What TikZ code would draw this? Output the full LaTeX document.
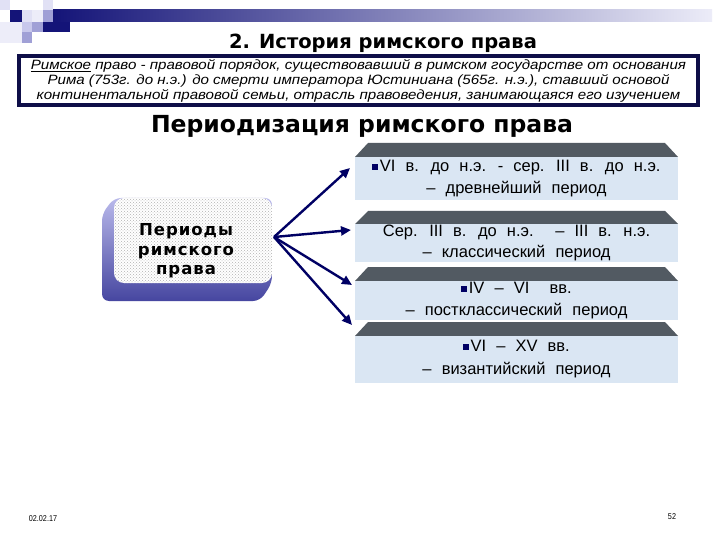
\documentclass[tikz,border=0pt]{standalone}
\usepackage{fontspec}
\setmainfont{Liberation Sans}
\newfontfamily\dvs{DejaVu Sans}
\newfontfamily\deffont[FakeStretch=1.12]{Liberation Sans}
\newfontfamily\boxfont[WordSpace=2.2]{Liberation Sans}
\newfontfamily\footfont[FakeStretch=0.85]{Liberation Sans}
\usetikzlibrary{arrows.meta,patterns}
\definecolor{navyband}{RGB}{20,20,120}
\definecolor{paleband}{RGB}{236,236,248}
\definecolor{defnavy}{RGB}{14,14,72}
\definecolor{arrnavy}{RGB}{0,0,100}
\definecolor{trapgray}{RGB}{82,90,98}
\definecolor{bodyblue}{RGB}{218,230,243}
\definecolor{lav1}{RGB}{200,200,236}
\definecolor{lav2}{RGB}{160,160,214}
\definecolor{lav3}{RGB}{225,225,245}
\definecolor{extA}{RGB}{185,185,235}
\definecolor{extB}{RGB}{70,70,160}
\newcommand{\blt}{\textcolor{arrnavy}{\rule[1.5pt]{6pt}{6pt}}\hspace{1.5pt}}
\tikzset{
  trap/.style={fill=trapgray},
  periodbox/.style={fill=bodyblue, minimum width=323pt, inner sep=0pt, align=center,
    font=\boxfont\fontsize{16.5}{21.5}\selectfont},
  conn/.style={draw=arrnavy, line width=2.4pt, -{Triangle[length=10pt,width=9pt]}},
}
\begin{document}
\begin{tikzpicture}[x=1pt,y=-1pt]
\useasboundingbox (0,0) rectangle (720,540);
\fill[white] (0,0) rectangle (720,540);
% top decoration
\shade[left color=navyband, right color=paleband] (53,10) rectangle (712,22);
\fill[lav3] (0,0) rectangle (10,10);
\fill[lav3] (43,0) rectangle (53,10);
\fill[navyband] (10,10) rectangle (22,22);
\fill[lav3] (22,10) rectangle (32,22);
\fill[lav3!60] (32,10) rectangle (43,22);
\fill[lav2] (43,10) rectangle (53,22);
\fill[lav3!60] (0,22) rectangle (22,43);
\fill[lav1] (22,22) rectangle (32,32);
\fill[lav2] (32,22) rectangle (43,32);
\fill[navyband] (43,22) rectangle (70,32);
\fill[lav2] (22,32) rectangle (32,43);
% title
\node[font=\dvs\bfseries\fontsize{19.5}{21}\selectfont] (title) at (383,43) {2. История римского права};
% definition box
\node[draw=defnavy, line width=4pt, fill=white, minimum width=679pt, minimum height=49pt, inner sep=0pt,
  align=center, font=\deffont\itshape\fontsize{13.5}{14.8}\selectfont] (def) at (358.5,81)
  {\underline{Римское} право - правовой порядок, существовавший в римском государстве от основания\\
   Рима (753г. до н.э.) до смерти императора Юстиниана (565г. н.э.), ставший основой\\
   континентальной правовой семьи, отрасль правоведения, занимающаяся его изучением};
% subtitle
\node[font=\dvs\bfseries\fontsize{23.5}{26}\selectfont] (sub) at (362,126) {Периодизация римского права};
% left 3D box
\shade[top color=extA, bottom color=extB, rounded corners=7pt]
  (114,198) -- (102,214) -- (102,301) -- (260,301) -- (272,283) -- (272,198) -- cycle;
\fill[white, rounded corners=10pt] (114,198) rectangle (272,283);
\fill[pattern=crosshatch dots, pattern color=gray!60, rounded corners=10pt] (114,198) rectangle (272,283);
\node[align=center, font=\dvs\bfseries\fontsize{16.5}{19.5}\selectfont\addfontfeatures{LetterSpace=6}] (lbox) at (186,251)
  {Периоды\\римского\\права};
% right boxes
\fill[trap] (368,143) -- (665,143) -- (678,157) -- (355,157) -- cycle;
\node[periodbox, minimum height=43pt] (p1) at (516.5,178.5)
  {\blt VI в. до н.э. - сер. III в. до н.э.\\ – древнейший период};
\fill[trap] (368,211) -- (665,211) -- (678,224) -- (355,224) -- cycle;
\node[periodbox, minimum height=38pt] (p2) at (516.5,243)
  {Сер. III в. до н.э. \ – III в. н.э.\\ – классический период};
\fill[trap] (368,267) -- (665,267) -- (678,281) -- (355,281) -- cycle;
\node[periodbox, minimum height=39pt] (p3) at (516.5,300.5)
  {\blt IV – VI \ вв.\\ – постклассический период};
\fill[trap] (368,322) -- (665,322) -- (678,336) -- (355,336) -- cycle;
\node[periodbox, minimum height=47pt] (p4) at (516.5,359.5)
  {\blt VI – XV вв.\\[1.5pt] – византийский период};
% connectors
\coordinate (hub) at (274,237);
\coordinate (e1) at (350,168);
\coordinate (e2) at (351,230);
\coordinate (e3) at (352,285);
\coordinate (e4) at (352,325);
\draw[conn] (hub) -- (e1);
\draw[conn] (hub) -- (e2);
\draw[conn] (hub) -- (e3);
\draw[conn] (hub) -- (e4);
% footer
\node[font=\footfont\fontsize{8.5}{10}\selectfont] (date) at (43,519) {02.02.17};
\node[font=\footfont\fontsize{8.5}{10}\selectfont] (page) at (672,517) {52};
\end{tikzpicture}
\end{document}
